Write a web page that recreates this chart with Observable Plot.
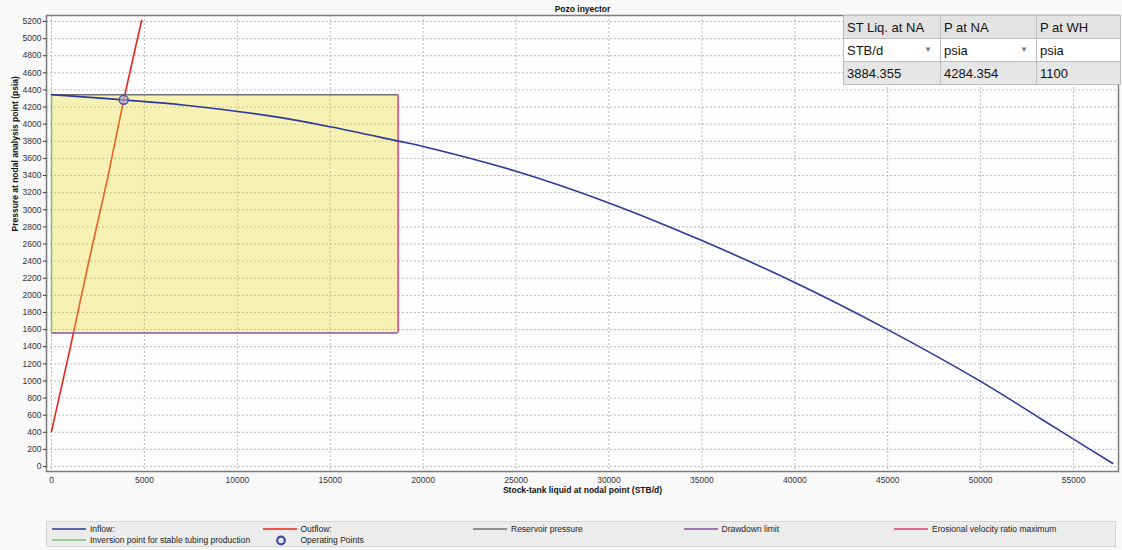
<!DOCTYPE html>
<html>
<head>
<meta charset="utf-8">
<script src="https://cdn.jsdelivr.net/npm/d3@7"></script>
<script src="https://cdn.jsdelivr.net/npm/@observablehq/plot@0.6"></script>
<style>
  html, body { margin: 0; padding: 0; background: #f9f9f9; }
  #wrap { position: relative; width: 1122px; height: 550px; font-family: "Liberation Sans", Arial, sans-serif; }
  #chart { position: absolute; left: 0; top: 0; }
  #tbl { position: absolute; left: 843px; top: 15px; border-collapse: collapse; font-size: 13px; color: #111; }
  #tbl td { border: 1px solid #bdbdbd; padding: 0 3px; height: 22px; white-space: nowrap; position: relative; }
  #tbl tr.h td { background: #e3e3e3; }
  #tbl tr.u td { background: #ffffff; }
  #tbl tr.v td { background: #e6e6e6; }
  #tbl .arr { position: absolute; right: 8px; top: 6px; font-size: 8px; color: #777; }
  #legend { position: absolute; left: 46px; top: 521px; width: 1070px; height: 26px; background: #ececec; border: 1px solid #d6d6d6; box-sizing: border-box; font-size: 8.5px; color: #222; }
  .li { position: absolute; height: 10px; display: flex; align-items: center; }
  .li svg { margin-right: 4px; }
</style>
</head>
<body>
<div id="wrap">
  <div id="chart"></div>
  <table id="tbl"></table>
  <div id="legend"></div>
</div>
<script>
// ---- data ----
const title = "Pozo inyector";
const xLabel = "Stock-tank liquid at nodal point (STB/d)";
const yLabel = "Pressure at nodal analysis point (psia)";

const xTicks = [0, 5000, 10000, 15000, 20000, 25000, 30000, 35000, 40000, 45000, 50000, 55000];
const yTicks = [0, 200, 400, 600, 800, 1000, 1200, 1400, 1600, 1800, 2000, 2200, 2400, 2600, 2800, 3000, 3200, 3400, 3600, 3800, 4000, 4200, 4400, 4600, 4800, 5000, 5200];

const inflowQ = [0, 3884, 7200, 12000, 15000, 18600, 20000, 25000, 30000, 35000, 40000, 45000, 50000, 53300, 55000, 57100];
const inflowP = [4345, 4284, 4222, 4088, 3970, 3805, 3740, 3450, 3080, 2640, 2150, 1600, 995, 550, 320, 38];

const outflowQ = [0, 1000, 2000, 3000, 3884, 4360, 4850];
const outflowP = [410, 1380, 2390, 3350, 4284, 4744, 5215];

const opQ = [3884.355];
const opP = [4284.354];

const reservoirPressure = 4345;
const drawdownLimit = 1560;
const inversionQ = 0;
const erosionalQ = 18650;

const tableHeaders = ["ST Liq. at NA", "P at NA", "P at WH"];
const tableUnits = ["STB/d", "psia", "psia"];
const tableDropdown = [true, true, false];
const tableValues = ["3884.355", "4284.354", "1100"];
const tableWidths = [97, 96, 84];

const legendItems = [
  {label: "Inflow:", color: "#2b3a99", kind: "line"},
  {label: "Outflow:", color: "#e8221c", kind: "line"},
  {label: "Reservoir pressure", color: "#707070", kind: "line"},
  {label: "Drawdown limit", color: "#8a4ea6", kind: "line"},
  {label: "Erosional velocity ratio maximum", color: "#e53a78", kind: "line"},
  {label: "Inversion point for stable tubing production", color: "#7cc27c", kind: "line"},
  {label: "Operating Points", color: "#3c4aa8", kind: "dot"}
];

// ---- build ----
const inflow = inflowQ.map((q, i) => ({q, p: inflowP[i]}));
const outflow = outflowQ.map((q, i) => ({q, p: outflowP[i]}));
const ops = opQ.map((q, i) => ({q, p: opP[i]}));

const font = "Liberation Sans, Arial, sans-serif";
const chart = Plot.plot({
  width: 1122,
  height: 500,
  marginLeft: 46,
  marginRight: 4,
  marginTop: 15,
  marginBottom: 29,
  style: {fontFamily: font, fontSize: "8.5px", background: "transparent", color: "#333"},
  x: {domain: [-270, 57420]},
  y: {domain: [-58, 5270]},
  marks: [
    Plot.frame({fill: "#fdfdfd"}),
    Plot.gridX(xTicks, {stroke: "#b8b8b8", strokeOpacity: 1, strokeDasharray: "2,2"}),
    Plot.gridY(yTicks, {stroke: "#b8b8b8", strokeOpacity: 1, strokeDasharray: "2,2"}),
    Plot.line(outflow, {x: "q", y: "p", stroke: "#e8221c", strokeWidth: 1.6}),
    Plot.rect([0], {x1: inversionQ, x2: erosionalQ, y1: drawdownLimit, y2: reservoirPressure, fill: "rgb(239,219,44)", fillOpacity: 0.35}),
    Plot.ruleY([reservoirPressure], {x1: inversionQ, x2: erosionalQ, stroke: "#707070", strokeWidth: 1.5}),
    Plot.ruleY([drawdownLimit], {x1: inversionQ, x2: erosionalQ, stroke: "#8a4ea6", strokeWidth: 1.5}),
    Plot.ruleX([inversionQ], {y1: drawdownLimit, y2: reservoirPressure, stroke: "#7cc27c", strokeWidth: 1.5}),
    Plot.ruleX([erosionalQ], {y1: drawdownLimit, y2: reservoirPressure, stroke: "#e53a78", strokeWidth: 1.5}),
    Plot.line(inflow, {x: "q", y: "p", stroke: "#2b3a99", strokeWidth: 1.6, curve: "catmull-rom"}),
    Plot.dot(ops, {x: "q", y: "p", r: 4.5, stroke: "#4a52a8", strokeWidth: 1.5, fill: "#b8a8d8", fillOpacity: 0.6}),
    Plot.frame({stroke: "#7a7a7a", strokeWidth: 1.5}),
    Plot.axisX(xTicks, {tickSize: 0, tickPadding: 5, label: null, fill: "#333", tickFormat: d3.format("d")}),
    Plot.axisY(yTicks, {tickSize: 3, tickPadding: 2, label: null, fill: "#333", tickFormat: d3.format("d")}),
    Plot.text([title], {frameAnchor: "top", dy: -10, fontWeight: "bold", fontSize: 8.5, fill: "#111"}),
    Plot.text([xLabel], {frameAnchor: "bottom", dy: 21, fontWeight: "bold", fontSize: 8.5, fill: "#111"}),
    Plot.text([yLabel], {frameAnchor: "left", dx: -31, dy: -12, rotate: -90, fontWeight: "bold", fontSize: 8.5, fill: "#111"})
  ]
});
document.getElementById("chart").appendChild(chart);

// table
const tbl = document.getElementById("tbl");
function row(cls, vals, arrows) {
  const tr = document.createElement("tr");
  tr.className = cls;
  vals.forEach((v, i) => {
    const td = document.createElement("td");
    td.style.width = (tableWidths[i] - 7) + "px";
    td.textContent = v;
    if (arrows && arrows[i]) {
      const s = document.createElement("span");
      s.className = "arr"; s.textContent = "\u25BC";
      td.appendChild(s);
    }
    tr.appendChild(td);
  });
  tbl.appendChild(tr);
}
row("h", tableHeaders);
row("u", tableUnits, tableDropdown);
row("v", tableValues);

// legend
const leg = document.getElementById("legend");
legendItems.forEach((it, i) => {
  const col = i < 5 ? i : i - 5;
  const r = i < 5 ? 0 : 1;
  const d = document.createElement("div");
  d.className = "li";
  d.style.left = (5 + col * 210.5) + "px";
  d.style.top = (2 + r * 11) + "px";
  let sym;
  if (it.kind === "line") {
    sym = `<svg width="34" height="10"><line x1="0" x2="34" y1="5" y2="5" stroke="${it.color}" stroke-width="1.5"/></svg>`;
  } else {
    sym = `<svg width="34" height="11"><circle cx="18" cy="5.5" r="3.8" fill="#e8e6f4" stroke="${it.color}" stroke-width="2.2"/></svg>`;
  }
  d.innerHTML = sym + `<span>${it.label}</span>`;
  leg.appendChild(d);
});
</script>
</body>
</html>
